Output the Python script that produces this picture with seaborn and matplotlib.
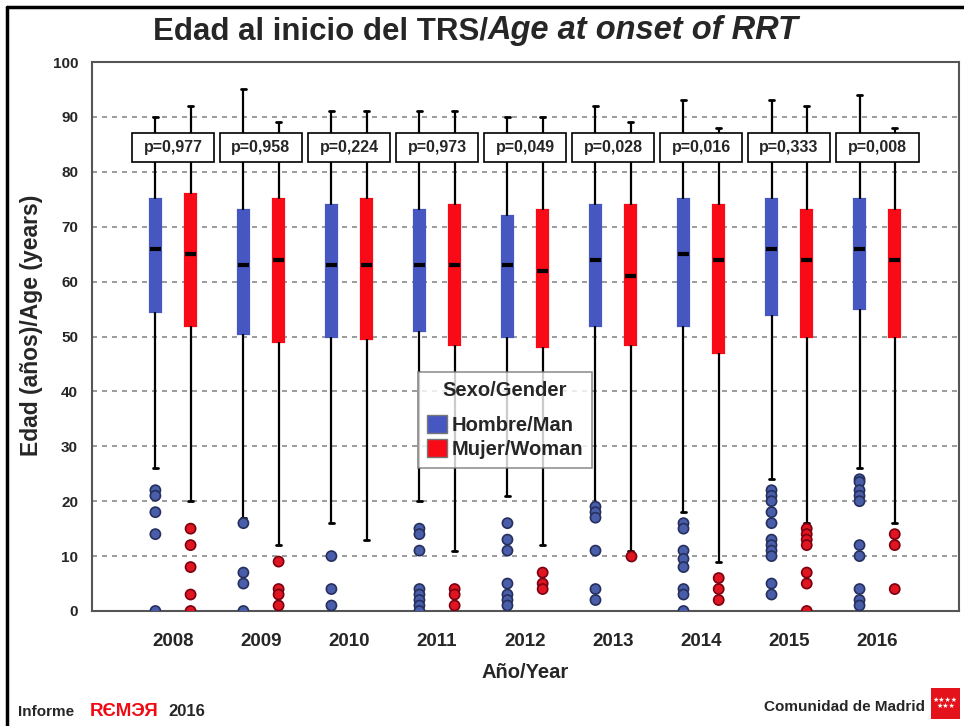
import numpy as np
import pandas as pd
import matplotlib
matplotlib.use("Agg")
import matplotlib.pyplot as plt
import seaborn as sns
from matplotlib.patches import Patch, Rectangle
from matplotlib.lines import Line2D

sns.set_style("white")
plt.rcParams['font.family'] = ['Liberation Sans', 'DejaVu Sans']

# datos
years = ["2008", "2009", "2010", "2011", "2012", "2013", "2014", "2015", "2016"]
sexes = ["Hombre/Man", "Mujer/Woman"]

# resumen por grupo: bigote inferior, Q1, mediana, Q3, bigote superior
man_lo = [26, 17, 16, 20, 21, 19, 18, 24, 26]
man_q1 = [54.5, 50.5, 50, 51, 50, 52, 52, 54, 55]
man_med = [66, 63, 63, 63, 63, 64, 65, 66, 66]
man_q3 = [75, 73, 74, 73, 72, 74, 75, 75, 75]
man_hi = [90, 95, 91, 91, 90, 92, 93, 93, 94]

woman_lo = [20, 12, 13, 11, 12, 11, 9, 16, 16]
woman_q1 = [52, 49, 49.5, 48.5, 48, 48.5, 47, 50, 50]
woman_med = [65, 64, 63, 63, 62, 61, 64, 64, 64]
woman_q3 = [76, 75, 75, 74, 73, 74, 74, 73, 73]
woman_hi = [92, 89, 91, 91, 90, 89, 88, 92, 88]

# valores atipicos
man_out = [
    [22, 21, 18, 14, 0],
    [16, 7, 5, 0],
    [10, 4, 1],
    [15, 14, 11, 4, 3, 2, 1, 0],
    [16, 13, 11, 5, 3, 2, 1],
    [19, 18, 17, 11, 4, 2],
    [16, 15, 11, 9.5, 8, 4, 3, 0],
    [22, 21, 20, 18, 16, 13, 12, 11, 10, 5, 3],
    [24, 23.5, 22, 21, 20, 12, 10, 4, 2, 1],
]
woman_out = [
    [15, 12, 8, 3, 0],
    [9, 4, 3, 1],
    [],
    [4, 3, 1],
    [7, 5, 4],
    [10],
    [6, 4, 2],
    [15, 14, 13, 12, 7, 5, 0],
    [14, 12, 4],
]

p_values = ["p=0,977", "p=0,958", "p=0,224", "p=0,973", "p=0,049",
            "p=0,028", "p=0,016", "p=0,333", "p=0,008"]

box_colors = {"Hombre/Man": "#4757C1", "Mujer/Woman": "#F80A16"}
out_colors = {"Hombre/Man": "#4A5DA8", "Mujer/Woman": "#E01522"}
out_edges = {"Hombre/Man": "#25305E", "Mujer/Woman": "#7A0010"}

# tabla larga para seaborn (5 puntos por caja, whis=inf -> min/max = bigotes)
rows = []
stats = {"Hombre/Man": (man_lo, man_q1, man_med, man_q3, man_hi),
         "Mujer/Woman": (woman_lo, woman_q1, woman_med, woman_q3, woman_hi)}
for sex, cols in stats.items():
    for i, y in enumerate(years):
        for c in cols:
            rows.append({"year": y, "sex": sex, "age": c[i]})
box_df = pd.DataFrame(rows)

rows = []
for sex, outs in (("Hombre/Man", man_out), ("Mujer/Woman", woman_out)):
    for i, y in enumerate(years):
        for v in outs[i]:
            rows.append({"year": y, "sex": sex, "age": v})
out_df = pd.DataFrame(rows)

fig, ax = plt.subplots(figsize=(9.64, 7.26), dpi=100)
fig.subplots_adjust(left=92 / 964, right=959 / 964, bottom=1 - 611 / 726, top=1 - 62 / 726)

sns.boxplot(data=box_df, x="year", y="age", hue="sex", order=years, hue_order=sexes,
            palette=box_colors, saturation=1, whis=np.inf, showfliers=False,
            width=0.8, gap=0.7, linecolor="black", linewidth=1.6,
            medianprops={"color": "black", "linewidth": 3},
            capprops={"linewidth": 2}, legend=False, ax=ax)
for patch in ax.patches:
    patch.set_edgecolor(patch.get_facecolor())

n_before = len(ax.collections)
sns.stripplot(data=out_df, x="year", y="age", hue="sex", order=years, hue_order=sexes,
              dodge=True, jitter=False, palette=out_colors, size=7.3, linewidth=1.2,
              edgecolor="#2A2A50", legend=False, ax=ax)
# borde mas oscuro del mismo tono para cada sexo
for coll in ax.collections[n_before:]:
    fc = coll.get_facecolor()
    if len(fc):
        coll.set_edgecolor(out_edges["Mujer/Woman"] if fc[0][0] > 0.7 else out_edges["Hombre/Man"])

ax.set_xlim(-0.92, 8.93)
ax.set_ylim(0, 100)
ax.set_yticks(range(0, 101, 10))
ax.yaxis.grid(True, linestyle=(0, (3, 3)), color="#8A8A8A", linewidth=1.2)
ax.set_axisbelow(True)
for s in ax.spines.values():
    s.set_color("#555555")
    s.set_linewidth(1.5)
ax.tick_params(axis="y", length=8, width=1.5, color="#555555", labelsize=11, pad=2)
ax.tick_params(axis="x", length=10, width=1.5, color="#555555", labelsize=13.5, pad=6)
for lab in ax.get_xticklabels() + ax.get_yticklabels():
    lab.set_fontweight("bold")

ax.set_xlabel("Año/Year", fontsize=14.5, fontweight="bold", labelpad=9)
ax.set_ylabel("Edad (años)/Age (years)", fontsize=16.5, fontweight="bold")
ax.yaxis.set_label_coords(-0.057, 0.52)

# cajas de p-valor
for i, p in enumerate(p_values):
    ax.add_patch(Rectangle((i - 0.47, 81.8), 0.94, 5.3, facecolor="white",
                           edgecolor="black", linewidth=1.2, zorder=5))
    ax.text(i, 84.4, p, ha="center", va="center", fontsize=11.5, fontweight="bold", zorder=6)

handles = [Patch(facecolor=box_colors[s], edgecolor="#777777") for s in sexes]
leg = ax.legend(handles, sexes, title="Sexo/Gender", loc="upper left",
                bbox_to_anchor=(418 / 964, 1 - 372 / 726), bbox_transform=fig.transFigure,
                borderaxespad=0, frameon=True, fancybox=False, shadow=False,
                handlelength=1.0, handleheight=1.0, handletextpad=0.2, labelspacing=0.2,
                prop={"weight": "bold", "size": 14.5}, borderpad=0.45)
leg.get_title().set_fontweight("bold")
leg.get_title().set_fontsize(14.5)
leg._legend_box.sep = 11
leg.get_frame().set_edgecolor("#777777")
leg.get_frame().set_linewidth(1.2)
leg.set_zorder(10)

# titulo en dos partes
fig.text(488 / 964, 1 - 31 / 726, "Edad al inicio del TRS/", ha="right", va="center",
         fontsize=22.5, fontweight="bold")
fig.text(488 / 964, 1 - 31 / 726, "Age at onset of RRT", ha="left", va="center",
         fontsize=23.5, fontweight="bold", style="italic")

# pie
fig.text(18 / 964, 1 - 712 / 726, "Informe", ha="left", va="center", fontsize=11, fontweight="bold")
fig.text(90 / 964, 1 - 712 / 726, "RЄMЭЯ", ha="left", va="center", fontsize=13.5,
         fontweight="bold", color="#F00A14")
fig.text(168 / 964, 1 - 712 / 726, "2016", ha="left", va="center", fontsize=12, fontweight="bold")
fig.text(925 / 964, 1 - 707 / 726, "Comunidad de Madrid", ha="right", va="center",
         fontsize=11, fontweight="bold")
fig.add_artist(Rectangle((931 / 964, 1 - 719 / 726), 29 / 964, 31 / 726,
                         transform=fig.transFigure, facecolor="#E3121B", edgecolor="none"))
fig.text(945.5 / 964, 1 - 703 / 726, "★★★★\n★★★", ha="center", va="center", fontsize=5,
         color="white", family=["DejaVu Sans"], linespacing=0.9)

# marco exterior (arriba e izquierda)
fig.add_artist(Line2D([7 / 964, 1], [1 - 7 / 726, 1 - 7 / 726], transform=fig.transFigure,
                      color="black", linewidth=2.5))
fig.add_artist(Line2D([7 / 964, 7 / 964], [0, 1 - 7 / 726], transform=fig.transFigure,
                      color="black", linewidth=2.5))

fig.savefig("out.png", dpi=100, facecolor="white")
